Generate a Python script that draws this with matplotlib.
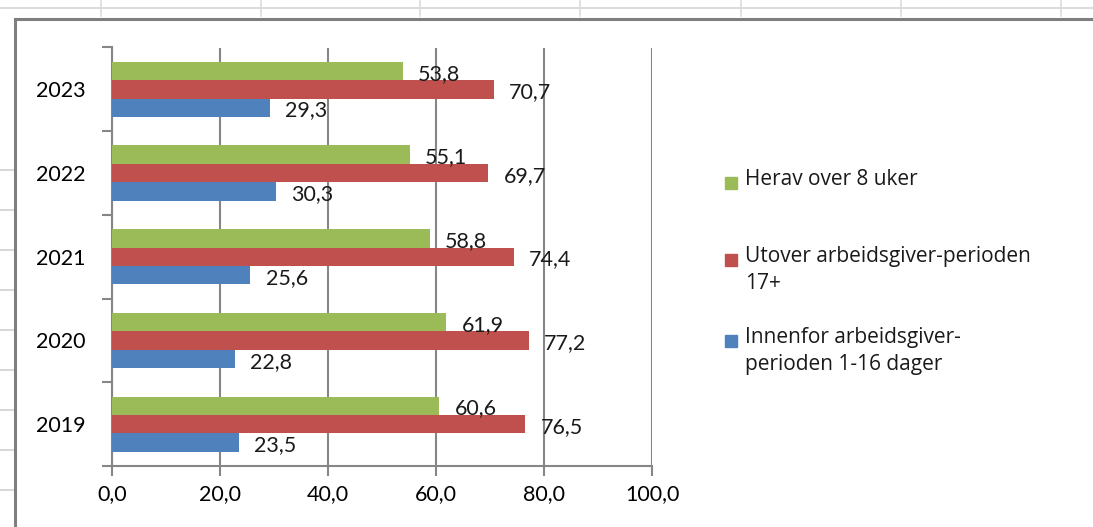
import matplotlib
matplotlib.use("Agg")
import matplotlib.pyplot as plt
from matplotlib.lines import Line2D
from matplotlib.patches import Rectangle
import numpy as np

plt.rcParams['font.family'] = ['Lato', 'DejaVu Sans']

years = ['2019', '2020', '2021', '2022', '2023']
innenfor = [23.5, 22.8, 25.6, 30.3, 29.3]
utover = [76.5, 77.2, 74.4, 69.7, 70.7]
herav = [60.6, 61.9, 58.8, 55.1, 53.8]

labels = ['Herav over 8 uker',
          'Utover arbeidsgiver-perioden\n17+',
          'Innenfor arbeidsgiver-\nperioden 1-16 dager']
colors = ['#9BBB59', '#C0504D', '#4F81BD']
x_ticks = [0, 20, 40, 60, 80, 100]

W, H = 1093, 527
GRAY = '#868686'
FS = 15.5


def fx(px):
    return px / W


def fy(py):
    return 1 - py / H


def comma(v):
    return f"{v:.1f}".replace('.', ',')


fig = plt.figure(figsize=(W / 100, H / 100), dpi=100)

# spreadsheet background bits
fig.add_artist(Line2D([0, 1], [fy(8), fy(8)], color='#dcdcdc', lw=1.5))
for px in [101, 261, 420, 580, 741, 901, 1061]:
    fig.add_artist(Line2D([fx(px), fx(px)], [fy(0), fy(16)], color='#dcdcdc', lw=1.2))
for py in range(170, 500, 40):
    fig.add_artist(Line2D([fx(0), fx(13)], [fy(py), fy(py)], color='#d0d0d0', lw=1.2))
fig.add_artist(Line2D([fx(15), 1], [fy(19), fy(19)], color='#7f7f7f', lw=2.2))
fig.add_artist(Line2D([fx(15), fx(15)], [fy(19), 0], color='#7f7f7f', lw=2.2))

ax = fig.add_axes([fx(112), fy(466), fx(652) - fx(112), fy(47.5) - fy(466)])

pos = np.arange(len(years))
h = 0.22
series = [herav, utover, innenfor]
offsets = [h, 0, -h]
for vals, col, off in zip(series, colors, offsets):
    ax.barh(pos + off, vals, height=h, color=col, zorder=3)
    for p, v in zip(pos, vals):
        ax.annotate(comma(v), (v, p + off), xytext=(11, -2), textcoords='offset points',
                    ha='left', va='center', fontsize=FS, color='#1a1a1a', zorder=4)

ax.set_xlim(0, 100)
ax.set_ylim(-0.5, len(years) - 0.5)
ax.set_xticks(x_ticks)
ax.set_xticklabels([comma(t) for t in x_ticks], fontsize=FS)
ax.xaxis.grid(True, color=GRAY, lw=1.5, zorder=0)

ax.set_yticks(np.arange(-0.5, len(years), 1.0))
ax.set_yticklabels([])
ax.set_yticks(pos, minor=True)
ax.set_yticklabels(years, minor=True, fontsize=FS)
ax.tick_params(axis='y', which='minor', length=0, pad=19)
ax.tick_params(axis='y', which='major', length=7, width=1.5, color=GRAY)
ax.tick_params(axis='x', length=7, width=1.5, color=GRAY, pad=6)

for s in ['top', 'right']:
    ax.spines[s].set_visible(False)
for s in ['left', 'bottom']:
    ax.spines[s].set_color(GRAY)
    ax.spines[s].set_linewidth(1.5)

# legend
leg_y = [183, 260, 341]
for lab, col, ly in zip(labels, colors, leg_y):
    fig.add_artist(Rectangle((fx(725), fy(ly + 6)), fx(12), fy(0) - fy(12),
                             transform=fig.transFigure, color=col))
    fig.text(fx(745), fy(ly - 14), lab, fontsize=15, va='top', ha='left',
             family=['Open Sans', 'DejaVu Sans'], linespacing=1.35, color='#1a1a1a')

fig.savefig('out.png', dpi=100)
